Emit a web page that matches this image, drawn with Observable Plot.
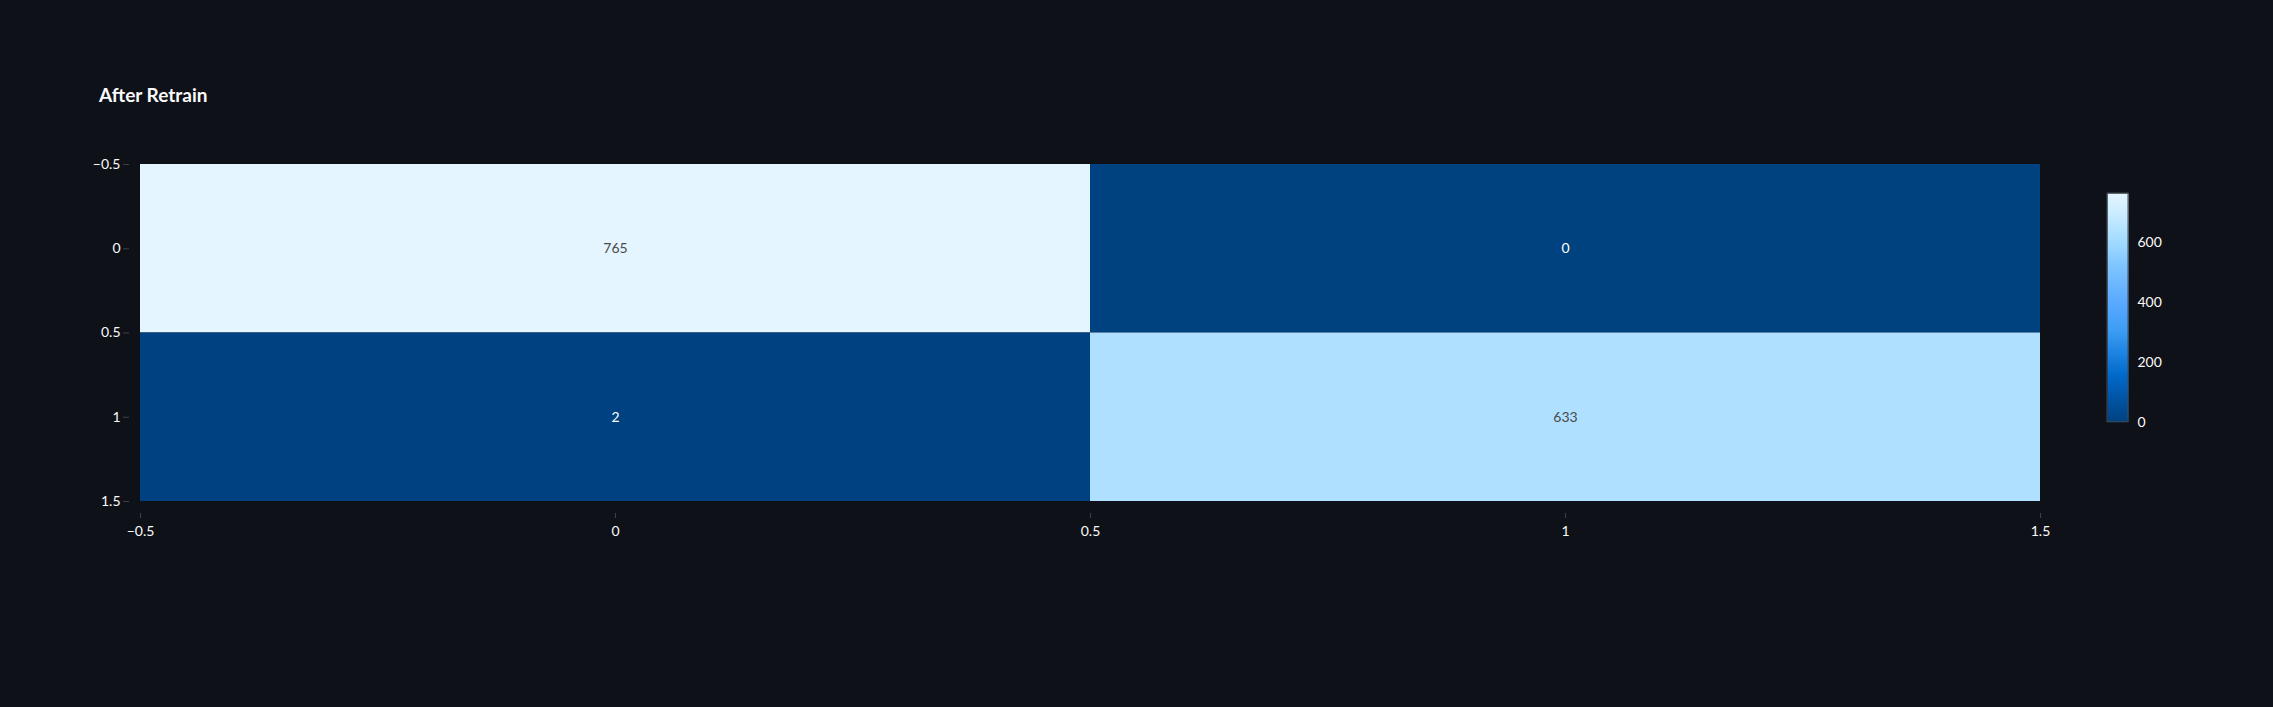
<!DOCTYPE html>
<html>
<head>
<meta charset="utf-8">
<script src="https://cdn.jsdelivr.net/npm/d3@7"></script>
<script src="https://cdn.jsdelivr.net/npm/@observablehq/plot@0.6"></script>
<style>
  html, body { margin: 0; padding: 0; background: #0e1117; }
  body { width: 2273px; height: 707px; position: relative; overflow: hidden; font-family: "Source Sans Pro", Lato, "Open Sans", sans-serif; color: #fafafa; }
  #title { position: absolute; left: 99px; top: 84px; font-size: 19px; font-weight: 700; line-height: 22px; color: #fafafa; }
  #main { position: absolute; left: 0; top: 0; }
  #bar { position: absolute; left: 2100px; top: 180px; }
</style>
</head>
<body>
<div id="title">After Retrain</div>
<div id="main"></div>
<div id="bar"></div>
<script>
// Data: confusion matrix (actual row, predicted column)
const rows = [0, 0, 1, 1];
const cols = [0, 1, 0, 1];
const counts = [765, 0, 2, 633];
const axisTicks = [-0.5, 0, 0.5, 1, 1.5];
const colorTicks = [0, 200, 400, 600];
const palette = ["#004280", "#0054a3", "#0068c9", "#1c83e1", "#3d9df3", "#55a6ff", "#6bb6ff", "#83c9ff", "#a6dcff", "#c7ebff", "#e4f5ff"];

const cells = counts.map((v, i) => ({row: rows[i], col: cols[i], value: v}));
const vmax = d3.max(counts);
const interp = d3.piecewise(d3.interpolateRgb, palette);
const colorScale = {type: "linear", domain: [0, vmax], interpolate: interp};
const fmt = d3.format("");
const tickColor = "#3b4048";
const textColor = "#fafafa";
const font = "Source Sans Pro, Lato, Open Sans, sans-serif";

const main = Plot.plot({
  width: 2273,
  height: 707,
  marginLeft: 140,
  marginRight: 233,
  marginTop: 164,
  marginBottom: 206,
  style: {background: "transparent", color: textColor, fontFamily: font, fontSize: "14px"},
  x: {domain: [-0.5, 1.5]},
  y: {domain: [-0.5, 1.5], reverse: true},
  color: colorScale,
  marks: [
    Plot.rect(cells, {
      x1: d => d.col - 0.5, x2: d => d.col + 0.5,
      y1: d => d.row - 0.5, y2: d => d.row + 0.5,
      fill: "value"
    }),
    Plot.text(cells, {
      x: "col", y: "row", text: d => String(d.value),
      fill: d => d.value > vmax / 2 ? "#4a4a4a" : "#ffffff",
      fontSize: 14
    }),
    Plot.axisY(axisTicks, {tickFormat: fmt, tickSize: 6, tickPadding: 3, dx: -11, stroke: tickColor, fill: textColor, fontSize: 14, label: null}),
    Plot.axisX(axisTicks, {tickFormat: fmt, tickSize: 5, tickPadding: 8, dy: 12, stroke: tickColor, fill: textColor, fontSize: 14, label: null})
  ]
});
document.getElementById("main").appendChild(main);

// Colorbar
const bar = Plot.plot({
  width: 90,
  height: 260,
  marginLeft: 7,
  marginRight: 62,
  marginTop: 13,
  marginBottom: 18.3,
  style: {background: "transparent", color: textColor, fontFamily: font, fontSize: "14px"},
  x: {domain: [0, 1], axis: null},
  y: {domain: [0, vmax]},
  color: colorScale,
  marks: [
    Plot.raster({x1: 0, x2: 1, y1: 0, y2: vmax, width: 1, height: 256, fill: (x, y) => y, imageRendering: "auto"}),
    Plot.rect([0], {x1: 0, x2: 1, y1: 0, y2: vmax, stroke: "#444a52", strokeWidth: 1, fill: "none"}),
    Plot.axisY(colorTicks, {anchor: "right", tickSize: 0, tickPadding: 9, fill: textColor, fontSize: 14, label: null, tickFormat: fmt})
  ]
});
document.getElementById("bar").appendChild(bar);
</script>
</body>
</html>
